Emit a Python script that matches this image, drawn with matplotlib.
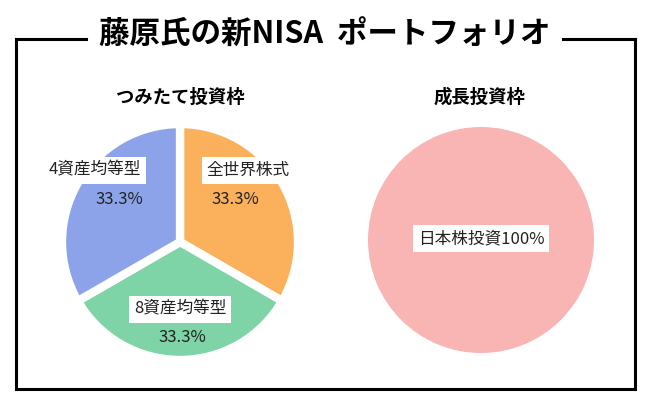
import matplotlib
matplotlib.use("Agg")
import matplotlib.pyplot as plt
from matplotlib.lines import Line2D

plt.rcParams['font.family'] = ['Noto Sans CJK JP', 'DejaVu Sans']

title = "藤原氏の新NISA  ポートフォリオ"

# つみたて投資枠
tsumitate_title = "つみたて投資枠"
tsumitate_names = ["全世界株式", "8資産均等型", "4資産均等型"]
tsumitate_share = [33.3, 33.3, 33.3]
tsumitate_colors = ["#FBB05C", "#7ED4A6", "#8CA3EA"]

# 成長投資枠
seicho_title = "成長投資枠"
seicho_names = ["日本株投資"]
seicho_share = [100]
seicho_colors = ["#F9B4B4"]

W, H = 650, 400
fig = plt.figure(figsize=(W / 100, H / 100), dpi=100)

def fx(px):
    return px / W

def fy(py):
    return 1 - py / H

# frame with gap for the title
lw = 2.2
for xs, ys in [([16, 86], [39, 39]), ([563, 635], [39, 39]),
               ([16, 16], [39, 389]), ([635, 635], [39, 389]),
               ([16, 635], [389, 389])]:
    fig.add_artist(Line2D([fx(x) for x in xs], [fy(y) for y in ys],
                          color="black", lw=lw, solid_capstyle="projecting"))

fig.text(fx(325), fy(35), title, ha="center", va="center",
         fontsize=22, fontweight="bold")

fig.text(fx(180), fy(97), tsumitate_title, ha="center", va="center",
         fontsize=13.2, fontweight="bold")
fig.text(fx(479), fy(97), seicho_title, ha="center", va="center",
         fontsize=13.2, fontweight="bold")

box = dict(boxstyle="square,pad=0.3", fc="white", ec="none")

# left pie
r1 = 118
ax1 = fig.add_axes([fx(180 - r1), fy(242 + r1), 2 * r1 / W, 2 * r1 / H])
ax1.pie(tsumitate_share, colors=tsumitate_colors, startangle=90,
        counterclock=False, radius=1,
        wedgeprops=dict(edgecolor="white", linewidth=6))
ax1.set_xlim(-1, 1)
ax1.set_ylim(-1, 1)
ax1.axis("off")

name_pos = [(0.58, 0.61), (0.0, -0.57), (-0.72, 0.61)]
pct_pos = [(0.47, 0.36), (0.02, -0.81), (-0.51, 0.36)]
for name, val, (nx, ny), (px, py) in zip(tsumitate_names, tsumitate_share,
                                         name_pos, pct_pos):
    ax1.text(nx, ny, name, ha="center", va="center", fontsize=12,
             color="#222222", bbox=box)
    ax1.text(px, py, f"{val:.1f}%", ha="center", va="center", fontsize=12,
             color="#222222")

# right pie
r2 = 113
ax2 = fig.add_axes([fx(481 - r2), fy(240 + r2), 2 * r2 / W, 2 * r2 / H])
ax2.pie(seicho_share, colors=seicho_colors, startangle=90,
        counterclock=False, radius=1)
ax2.set_xlim(-1, 1)
ax2.set_ylim(-1, 1)
ax2.axis("off")
ax2.text(0, 0.01, f"{seicho_names[0]}{seicho_share[0]}%", ha="center",
         va="center", fontsize=12, color="#222222", bbox=box)

fig.savefig("out.png", dpi=100)
